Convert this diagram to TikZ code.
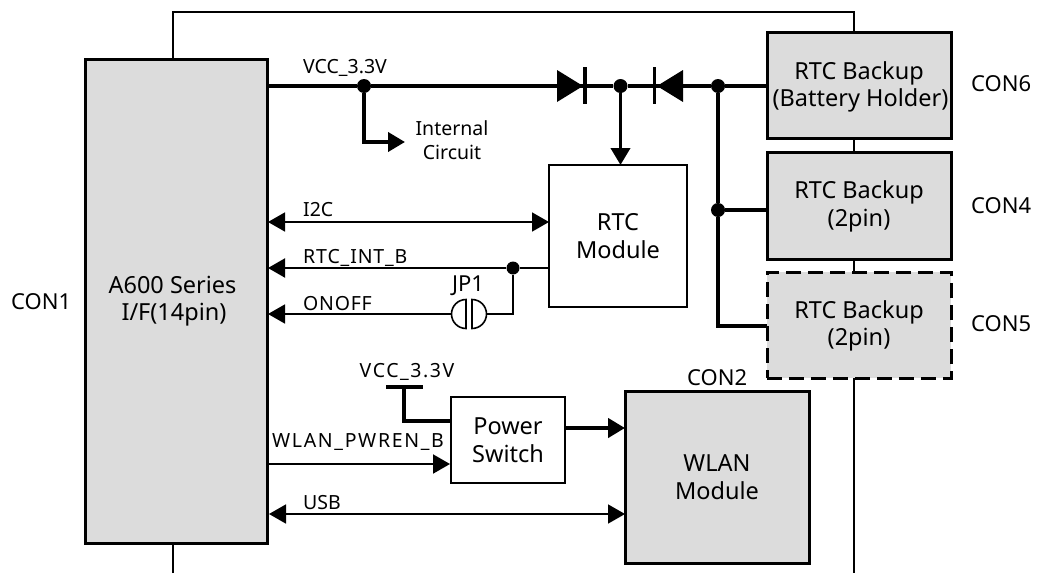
\documentclass[tikz,border=0pt]{standalone}
\usepackage{fontspec}
\setmainfont{Noto Sans}
\usetikzlibrary{arrows.meta,calc}
\tikzset{
  block/.style={draw=black,line width=3pt,fill=blockgray,inner sep=0pt,outer sep=0pt,align=center,font=\bigfont,anchor=north west},
  wbox/.style={draw=black,line width=2.8pt,fill=white,inner sep=0pt,outer sep=0pt,align=center,font=\bigfont,anchor=north west},
  big/.style={font=\confont,inner sep=0pt},
  small/.style={font=\smallfont,inner sep=0pt,anchor=base west},
  dot/.style={circle,fill=black,draw=none,minimum size=14pt,inner sep=0pt},
  thinw/.style={line width=1.7pt},
  heavy/.style={line width=4.4pt},
  medium/.style={line width=3.8pt},
  tip/.style={-{Triangle[length=17pt,width=19pt]}},
  ttip/.style={{Triangle[length=17pt,width=19pt]}-{Triangle[length=17pt,width=19pt]}},
  x=1pt,y=-1pt
}
\definecolor{blockgray}{HTML}{DCDCDC}
\newcommand{\bigfont}{\fontsize{23.5}{27.5}\selectfont}
\newcommand{\confont}{\fontsize{22}{27}\selectfont}
\newcommand{\smallfont}{\fontsize{19.5}{24}\selectfont}
\newcommand{\dnb}[2]{\raisebox{-#1pt}[\height][\depth]{#2}}
\begin{document}
\begin{tikzpicture}
\useasboundingbox (0,0) rectangle (1043,573);
% outer thin frame
\coordinate (fa) at (173,573);
\coordinate (fb) at (173,12);
\coordinate (fc) at (854,12);
\coordinate (fd) at (854,573);
\draw[line width=1.6pt] (fa) -- (fb) -- (fc) -- (fd);
% blocks
\node[block,minimum width=182pt,minimum height=484pt] (a600) at (85,59) {A600 Series\kern7pt\\ I/F(14pin)\kern4pt};
\node[block,minimum width=184pt,minimum height=106pt] (con6) at (767,32) {\dnb{2}{RTC Backup}\\\dnb{2}{\hspace*{3pt}(Battery Holder)}};
\node[block,minimum width=184pt,minimum height=107pt] (con4) at (767,152) {\dnb{1}{RTC Backup}\\\dnb{1}{(2pin)}};
\node[block,dashed,dash pattern=on 15pt off 7pt,minimum width=184pt,minimum height=106pt] (con5) at (767,272) {\dnb{1}{RTC Backup}\\\dnb{1}{(2pin)}};
\node[block,minimum width=184pt,minimum height=172pt] (wlan) at (625,391) {WLAN\\Module};
\node[wbox,minimum width=138pt,minimum height=142pt] (rtc) at (549,165) {RTC\\Module};
\node[wbox,minimum width=114pt,minimum height=86pt] (psw) at (451,397) {Power\\Switch};
% junctions
\node[dot] (j1) at (364,86) {};
\node[dot] (j2) at (620.5,86) {};
\node[dot] (j3) at (718,86) {};
\node[dot] (j4) at (718,210) {};
\node[dot,minimum size=13pt] (j5) at (513,268) {};
% free ends
\coordinate (a1) at (267,86);
\coordinate (ic) at (405,142);
\coordinate (rtcT) at (620.5,165);
\coordinate (c6L) at (767,86);
\coordinate (c4L) at (767,210);
\coordinate (c5L) at (767,326);
\coordinate (jc) at (718,326);
% main rail
\draw[heavy] (a1) -- (j1) -- (j2) -- (j3) -- (c6L);
\draw[medium,tip] (j1) |- (ic);
\draw[medium,tip] (j2) -- (rtcT);
\draw[medium] (j3) -- (j4) -- (jc) -- (c5L);
\draw[medium] (j4) -- (c4L);
% diodes
\fill (557,70) -- (583,86) -- (557,102) -- cycle;
\fill (683,70) -- (657,86) -- (683,102) -- cycle;
\draw[line width=3.6pt] (585,67) -- (585,104);
\draw[line width=3.6pt] (654.5,67) -- (654.5,104);
% signals
\coordinate (i2cA) at (268,222);
\coordinate (i2cB) at (549,222);
\draw[thinw,ttip] (i2cA) -- (i2cB);
\coordinate (intA) at (268,268);
\coordinate (intB) at (549,268);
\draw[line width=2pt,tip] (intB) -- (j5) -- (intA);
% JP1
\coordinate (onA) at (268,314);
\coordinate (jpL) at (452,314);
\coordinate (jpR) at (486,314);
\draw[thinw,tip] (jpL) -- (onA);
\draw[line width=1.8pt] (jpR) -| (j5);
\draw[line width=1.6pt] (466,299.5) arc[start angle=-90,end angle=-270,radius=14.5] -- cycle;
\draw[line width=1.6pt] (472,299.5) arc[start angle=-90,end angle=90,radius=14.5] -- cycle;
% power switch
\coordinate (vb1) at (386,387);
\coordinate (vb2) at (423,387);
\coordinate (vb) at (404,387);
\coordinate (psL) at (451,421);
\draw[medium] (vb1) -- (vb2);
\draw[medium] (vb) |- (psL);
\coordinate (psR) at (565,428);
\coordinate (wL) at (625,428);
\draw[heavy,tip] (psR) -- (wL);
\coordinate (pwA) at (267,464);
\coordinate (pwB) at (450,464);
\draw[line width=2pt,tip] (pwA) -- (pwB);
\coordinate (usA) at (269,514);
\coordinate (usB) at (625,514);
\draw[thinw,ttip] (usA) -- (usB);
% labels
\node[small] (t1) at (303,73) {VCC\_3.3V};
\node[small] (t2) at (303,216) {I2C};
\node[small] (t3) at (303,263) {\addfontfeature{LetterSpace=4.5}RTC\_INT\_B};
\node[small] (t4) at (303,310) {\addfontfeature{LetterSpace=4}ONOFF};
\node[small] (t5) at (272,447) {\addfontfeature{LetterSpace=8.5}WLAN\_PWREN\_B};
\node[small] (t6) at (303,509) {USB};
\node[small,anchor=base] (t7) at (407,377) {\addfontfeature{LetterSpace=8}VCC\_3.3V};
\node[small,align=center,anchor=center] (t8) at (452,140) {Internal\\Circuit};
\node[big] (t9) at (468,286) {JP1};
\node[big,anchor=west] (c1) at (11,302) {CON1};
\node[big,anchor=west] (c6) at (971,84) {CON6};
\node[big,anchor=west] (c4) at (971,206) {CON4};
\node[big,anchor=west] (c5) at (971,324) {CON5};
\node[big,anchor=west] (c2) at (687,378) {CON2};
\end{tikzpicture}
\end{document}
